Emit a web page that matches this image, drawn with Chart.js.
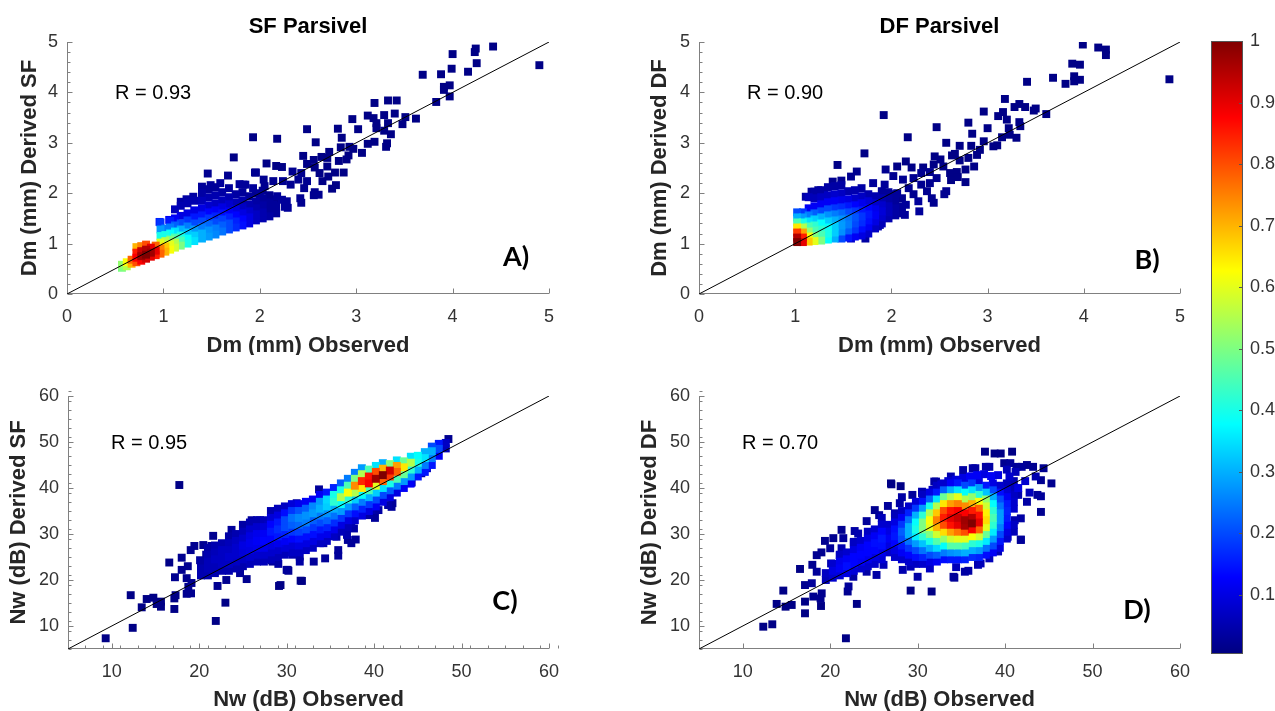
<!DOCTYPE html>
<html><head><meta charset="utf-8">
<script src="https://cdn.jsdelivr.net/npm/chart.js@4.4.1/dist/chart.umd.min.js"></script>
<style>
html,body{margin:0;padding:0;background:#fff}
body{width:1275px;height:711px;position:relative;overflow:hidden}
canvas{position:absolute}
</style></head><body>
<canvas id="cA" width="620" height="355" style="left:0;top:0"></canvas>
<canvas id="cB" width="575" height="355" style="left:630px;top:0"></canvas>
<canvas id="cC" width="620" height="356" style="left:0;top:355px"></canvas>
<canvas id="cD" width="575" height="356" style="left:630px;top:355px"></canvas>
<canvas id="cBar" width="80" height="711" style="left:1195px;top:0"></canvas>
<script>
// ---------------- data ----------------
const dmRange=[0,5], nwRange=[5,60];
const dmTicks=[0,1,2,3,4,5];
const nwTicks=[10,20,30,40,50,60];
const cbTicks=[0.1,0.2,0.3,0.4,0.5,0.6,0.7,0.8,0.9,1];
const cbRange=[0.004,1];
const titles=['SF Parsivel','DF Parsivel'];
const rLabels=['R = 0.93','R = 0.90','R = 0.95','R = 0.70'];
const panelTags=['A)','B)','C)','D)'];
const xTitles=['Dm (mm) Observed','Dm (mm) Observed','Nw (dB) Observed','Nw (dB) Observed'];
const yTitles=['Dm (mm) Derived SF','Dm (mm) Derived DF','Nw (dB) Derived SF','Nw (dB) Derived DF'];

// [observed, derived, normalised density]
const sfDmPts=[
[4.42,4.91,.01],[4.24,4.87,.01],[4.23,4.80,.01],[4.00,4.76,.01],[4.25,4.58,.01],[3.99,4.47,.01],[4.16,4.41,.01],[4.90,4.54,.01],[3.69,4.35,.01],[3.88,4.36,.01],[3.91,4.11,.01],[3.97,4.14,.01],[3.91,4.05,.01],[3.97,3.92,.01],[3.83,3.81,.01],[3.19,3.79,.01],[3.33,3.84,.01],[3.42,3.84,.01],[2.96,3.47,.01],[3.12,3.54,.01],[3.18,3.49,.01],[3.29,3.55,.01],[3.40,3.58,.01],[3.51,3.51,.01],[3.62,3.48,.01],[3.48,3.37,.01],[3.33,3.39,.01],[3.21,3.39,.01],[3.21,3.29,.01],[3.29,3.24,.01],[3.36,3.17,.01],[3.02,3.27,.01],[2.81,3.28,.01],[2.49,3.27,.01],[1.93,3.11,.01],[2.18,3.08,.01],[2.85,3.10,.01],[2.58,3.01,.01],[3.12,2.98,.01],[3.19,3.02,.01],[3.31,2.92,.01],[3.32,2.99,.01],[2.93,2.92,.01],[2.84,2.91,.01],[2.97,2.88,.01],[3.06,2.80,.01],[2.72,2.82,.01],[2.92,2.75,.01],[2.45,2.74,.01],[2.64,2.72,.01],[2.56,2.66,.01],[2.70,2.70,.01],[2.82,2.64,.01],[2.90,2.67,.01],[2.07,2.59,.01],[2.17,2.54,.01],[2.23,2.52,.01],[2.49,2.58,.01],[2.57,2.51,.01],[2.70,2.53,.01],[1.95,2.41,.02],[2.34,2.43,.02],[2.43,2.40,.02],[2.62,2.40,.01],[2.78,2.41,.01],[2.87,2.41,.01],[2.71,2.33,.01],[2.65,2.24,.01],[2.49,2.24,.02],[2.40,2.27,.02],[2.24,2.24,.02],[2.14,2.24,.02],[2.04,2.27,.02],[1.83,2.17,.03],[1.93,2.10,.03],[2.05,2.14,.02],[2.32,2.17,.02],[2.46,2.10,.02],[2.79,2.16,.01],[2.75,2.09,.01],[2.57,2.02,.02],[2.61,1.97,.02],[2.56,1.96,.02],[2.42,1.90,.02],[2.43,1.81,.02],[2.28,1.84,.03],[2.29,1.71,.03],[2.14,1.77,.03],[2.13,1.61,.03],[2.23,1.87,.03],[2.18,1.94,.03],[2.00,1.97,.03],[2.02,1.64,.04],[1.90,1.51,.05],
[1.46,2.39,.02],[1.67,2.35,.02],[1.73,2.71,.01],[1.40,2.13,.03],[1.49,2.16,.03],[1.59,2.20,.03],[1.79,2.18,.03],[1.85,2.17,.03],[1.96,2.41,.02],[1.18,1.83,.04],[1.24,1.88,.04],[1.31,1.93,.04],[1.06,1.47,.12],[0.96,1.43,.15],[2.26,1.73,.03],
[0.57,0.52,.5],[0.57,0.58,.52],[0.62,0.55,.55],[0.62,0.63,.62],[0.67,0.6,.7],[0.67,0.68,.78],
[0.72,0.63,.8],[0.72,0.72,.88],[0.72,0.82,.85],[0.72,0.93,.7],
[0.77,0.66,.88],[0.77,0.75,.97],[0.77,0.85,.93],[0.77,0.95,.75],
[0.82,0.7,.92],[0.82,0.78,1],[0.82,0.88,.95],[0.82,0.98,.8],
[0.87,0.74,.9],[0.87,0.82,.97],[0.87,0.92,.9],
[0.92,0.77,.85],[0.92,0.86,.9],[0.92,0.96,.78],
[0.97,0.8,.78],[0.97,0.9,.75],[0.97,1.02,.6],[0.97,1.15,.4],[0.97,1.28,.28],[0.97,1.42,.18],
[1.02,0.84,.7],[1.02,0.94,.68],[1.02,1.05,.55],[1.02,1.17,.4],[1.02,1.3,.25],
[1.07,0.88,.62],[1.07,0.98,.6],[1.07,1.08,.5],[1.07,1.2,.38],[1.07,1.32,.25],[1.07,1.45,.15],
[1.12,0.92,.58],[1.12,1.02,.55],[1.12,1.12,.45],[1.12,1.24,.35],[1.12,1.36,.22],[1.12,1.5,.12],[1.12,1.68,.06],
[1.18,0.96,.5],[1.18,1.06,.45],[1.18,1.16,.4],[1.18,1.28,.3],[1.18,1.4,.2],[1.18,1.55,.1],[1.18,1.75,.05],
[1.25,1.0,.4],[1.25,1.1,.38],[1.25,1.22,.32],[1.25,1.34,.25],[1.25,1.46,.18],[1.25,1.6,.1],[1.25,1.8,.05],
[1.32,1.05,.35],[1.32,1.16,.33],[1.32,1.28,.28],[1.32,1.4,.2],[1.32,1.52,.15],[1.32,1.66,.1],[1.32,1.85,.05],
[1.4,1.1,.3],[1.4,1.2,.3],[1.4,1.32,.25],[1.4,1.44,.2],[1.4,1.56,.15],[1.4,1.7,.1],[1.4,1.85,.06],[1.4,2.0,.04],
[1.47,1.14,.28],[1.47,1.26,.27],[1.47,1.38,.23],[1.47,1.5,.18],[1.47,1.62,.13],[1.47,1.76,.08],[1.47,1.92,.05],[1.47,2.08,.03],
[1.54,1.18,.26],[1.54,1.3,.25],[1.54,1.42,.2],[1.54,1.54,.16],[1.54,1.66,.12],[1.54,1.8,.07],[1.54,1.96,.05],[1.54,2.12,.03],
[1.61,1.24,.24],[1.61,1.36,.22],[1.61,1.48,.19],[1.61,1.6,.14],[1.61,1.72,.1],[1.61,1.86,.06],[1.61,2.02,.04],
[1.68,1.28,.2],[1.68,1.4,.2],[1.68,1.52,.16],[1.68,1.64,.12],[1.68,1.78,.08],[1.68,1.92,.05],[1.68,2.1,.03],
[1.75,1.32,.17],[1.75,1.44,.16],[1.75,1.56,.13],[1.75,1.68,.1],[1.75,1.82,.06],[1.75,1.98,.04],
[1.82,1.36,.14],[1.82,1.48,.13],[1.82,1.6,.1],[1.82,1.72,.07],[1.82,1.86,.05],[1.82,2.02,.03],
[1.89,1.4,.1],[1.89,1.52,.1],[1.89,1.64,.08],[1.89,1.78,.05],[1.89,1.94,.03],
[1.96,1.46,.07],[1.96,1.58,.07],[1.96,1.7,.05],[1.96,1.84,.04],[1.96,2.0,.02],
[2.03,1.5,.05],[2.03,1.62,.05],[2.03,1.76,.04],[2.03,1.9,.03],[2.03,2.05,.02],
[2.1,1.54,.04],[2.1,1.68,.03],[2.1,1.82,.03],[2.1,1.96,.02],
[2.17,1.6,.03],[2.17,1.74,.03],[2.17,1.88,.02]
];

const dfDmPts=[
[3.99,4.95,.01],[4.15,4.89,.01],[4.23,4.85,.01],[4.23,4.74,.01],[3.88,4.57,.01],[3.96,4.55,.01],[4.89,4.26,.01],[3.41,4.21,.01],[3.68,4.29,.01],[3.81,4.17,.01],[3.90,4.32,.01],[3.90,4.22,.01],[3.96,4.25,.01],[3.18,3.87,.01],[3.28,3.71,.01],[3.33,3.77,.01],[3.39,3.71,.01],[3.48,3.64,.01],[3.50,3.68,.01],[3.61,3.57,.01],[2.96,3.62,.01],[3.16,3.61,.01],[3.11,3.53,.01],[3.20,3.46,.01],[1.92,3.55,.01],[2.80,3.40,.01],[3.00,3.29,.01],[2.47,3.31,.01],[3.33,3.41,.01],[3.34,3.33,.01],[3.22,3.29,.01],[3.23,3.16,.01],[3.30,3.10,.01],[3.15,3.11,.01],[2.84,3.18,.01],[2.17,3.11,.01],[2.57,3.00,.01],[2.96,3.03,.01],[3.06,2.93,.01],[3.10,2.95,.01],[2.71,2.94,.01],[2.83,2.94,.01],[2.92,2.86,.01],[2.89,2.76,.01],[2.45,2.73,.01],[2.63,2.75,.01],[2.66,2.78,.01],[2.51,2.67,.01],[2.71,2.65,.01],[2.80,2.70,.01],[2.86,2.53,.01],[2.15,2.63,.01],[2.06,2.53,.01],[2.21,2.51,.01],[2.33,2.51,.01],[2.44,2.57,.01],[2.54,2.53,.01],[1.94,2.47,.02],[2.77,2.47,.01],[2.31,2.40,.02],[2.40,2.42,.02],[2.61,2.40,.01],[2.68,2.42,.01],[2.69,2.32,.01],[2.62,2.26,.01],[2.77,2.22,.01],[2.02,2.34,.02],[2.12,2.27,.02],[2.23,2.30,.02],[2.47,2.30,.02],[1.81,2.20,.03],[1.93,2.17,.03],[2.31,2.17,.02],[2.40,2.20,.02],[2.57,2.04,.02],[2.55,1.98,.02],[2.37,2.04,.02],[2.18,2.10,.02],[2.06,2.00,.03],[2.23,1.98,.02],[2.42,1.90,.02],[2.44,1.81,.02],[2.28,1.84,.03],[2.29,1.64,.03],[2.15,1.77,.03],[2.14,1.57,.03],[2.04,1.64,.03],[1.94,1.81,.04],[1.88,1.37,.05],
[1.11,1.93,.04],[1.17,2.03,.03],[1.24,2.06,.03],[1.39,2.23,.02],[1.44,2.56,.01],[1.48,2.25,.02],[1.58,2.33,.02],[1.64,2.43,.02],[1.72,2.79,.01],[1.73,1.10,.04],[1.58,1.10,.08],[1.86,1.34,.05],[1.30,1.98,.04],
[1.02,1.03,1],[1.02,1.12,.95],[1.02,1.22,.82],[1.02,1.32,.65],[1.02,1.42,.45],[1.02,1.52,.3],[1.02,1.62,.2],
[1.08,1.03,.9],[1.08,1.12,.85],[1.08,1.22,.72],[1.08,1.32,.55],[1.08,1.42,.4],[1.08,1.52,.28],[1.08,1.62,.18],
[1.14,1.04,.68],[1.14,1.14,.62],[1.14,1.24,.52],[1.14,1.34,.45],[1.14,1.44,.35],[1.14,1.56,.25],[1.14,1.7,.12],[1.14,1.92,.06],
[1.2,1.05,.6],[1.2,1.15,.5],[1.2,1.26,.45],[1.2,1.36,.42],[1.2,1.48,.33],[1.2,1.6,.22],[1.2,1.74,.12],[1.2,1.9,.06],[1.2,2.03,.04],
[1.27,1.06,.5],[1.27,1.17,.45],[1.27,1.28,.42],[1.27,1.4,.38],[1.27,1.52,.3],[1.27,1.64,.2],[1.27,1.78,.12],[1.27,1.92,.07],[1.27,2.06,.04],
[1.34,1.08,.38],[1.34,1.2,.4],[1.34,1.32,.38],[1.34,1.44,.33],[1.34,1.56,.27],[1.34,1.68,.2],[1.34,1.82,.12],[1.34,1.96,.07],[1.34,2.12,.04],
[1.41,1.1,.3],[1.41,1.22,.33],[1.41,1.34,.33],[1.41,1.46,.3],[1.41,1.58,.25],[1.41,1.7,.18],[1.41,1.84,.12],[1.41,1.98,.08],[1.41,2.14,.04],
[1.48,1.1,.2],[1.48,1.24,.27],[1.48,1.36,.28],[1.48,1.48,.27],[1.48,1.6,.23],[1.48,1.72,.17],[1.48,1.86,.11],[1.48,2.0,.07],[1.48,2.16,.04],
[1.55,1.12,.15],[1.55,1.26,.22],[1.55,1.38,.25],[1.55,1.5,.24],[1.55,1.62,.2],[1.55,1.74,.15],[1.55,1.88,.1],[1.55,2.04,.05],
[1.62,1.14,.12],[1.62,1.28,.18],[1.62,1.4,.2],[1.62,1.52,.21],[1.62,1.64,.18],[1.62,1.76,.13],[1.62,1.9,.08],[1.62,2.06,.05],
[1.69,1.16,.1],[1.69,1.3,.14],[1.69,1.42,.17],[1.69,1.54,.18],[1.69,1.66,.15],[1.69,1.8,.11],[1.69,1.94,.07],[1.69,2.1,.04],
[1.76,1.2,.08],[1.76,1.34,.12],[1.76,1.46,.14],[1.76,1.58,.15],[1.76,1.7,.13],[1.76,1.84,.09],[1.76,1.98,.05],
[1.83,1.3,.07],[1.83,1.44,.1],[1.83,1.56,.12],[1.83,1.68,.11],[1.83,1.8,.08],[1.83,1.94,.05],
[1.9,1.4,.06],[1.9,1.52,.08],[1.9,1.64,.09],[1.9,1.76,.08],[1.9,1.9,.05],[1.9,2.04,.03],
[1.97,1.5,.05],[1.97,1.62,.06],[1.97,1.74,.06],[1.97,1.88,.04],[1.97,2.02,.03],
[2.04,1.56,.04],[2.04,1.7,.04],[2.04,1.84,.03],[2.04,1.98,.03],
[2.11,1.6,.03],[2.11,1.74,.03],[2.11,1.9,.02]
];

const sfNwPts=[
[17.73,40.65,.01],[9.31,7.33,.01],[12.4,9.6,.01],[12.17,16.7,.01],[13.43,14.06,.01],[14.0,15.87,.01],[14.76,16.15,.01],[15.14,14.78,.01],[15.63,14.2,.01],[15.63,15.3,.01],[17.16,13.7,.01],[17.16,16.0,.01],[17.3,16.7,.01],[16.58,23.8,.01],[17.23,20.6,.02],[18.0,24.85,.02],[18.0,22.2,.02],[18.57,20.4,.02],[18.7,23.0,.02],[18.76,18.5,.02],[18.57,17.0,.02],[19.07,17.1,.02],[19.12,19.35,.02],[19.03,26.5,.02],[19.45,27.4,.02],[21.9,11.1,.01],[23.0,15.07,.01],[22.1,18.7,.02],[23.1,20.0,.02],[25.43,20.2,.02],[29.13,18.7,.01],[30.12,22.2,.02],[31.6,19.85,.01],[20.1,24.3,.03],[20.47,21.5,.03],[20.47,27.6,.02],[21.6,29.6,.02],[21.4,27.4,.03],[20.8,25.5,.03],[21.8,23.3,.04],[22.5,26.0,.04],[23.7,30.9,.03],[23.6,28.0,.05],[24.1,24.3,.04],[24.67,21.5,.03],[24.86,28.3,.06],[25.24,31.6,.04],[26.0,33.0,.03],[26.1,30.9,.06],[26.3,28.0,.08],[26.84,25.1,.05],[26.96,33.0,.04],[27.9,32.0,.07],[28.3,24.3,.04],[29.05,23.5,.04],[29.2,28.0,.1],[29.43,35.2,.04],[30.1,26.2,.06],[30.6,33.75,.16],[30.7,25.5,.05],[31.5,24.0,.04],
[48.5,50.65,.02],[46.05,44.3,.06],[45.4,43.2,.05],[44.3,41.2,.05],[43.4,41.2,.08],[42.2,39.1,.06],[42.1,36.7,.03],[42.0,35.9,.03],[40.5,35.2,.04],[40.1,33.5,.03],[39.4,34.1,.04],[37.7,31.2,.04],[37.9,28.8,.03],[37.0,28.7,.03],[35.9,26.5,.03],[35.9,25.3,.03],[34.4,24.7,.03],[33.1,24.0,.03],[31.75,19.8,.01],[30.2,22.0,.02],[29.3,18.9,.01],[28.4,24.0,.03],[33.7,39.7,.03],[28.9,35.0,.03],[41.6,36.3,.04],[39.7,35.2,.05],[37.4,32.3,.05],[36.9,29.8,.05],[37.4,28.0,.03],[31.15,36.7,.04],[35.7,29.4,.05],[34.2,28.0,.05],[32.9,27.2,.05],[31.5,25.1,.04],[30.0,22.2,.03],[44.1,41.0,.12],[44.9,43.5,.15],[46.0,44.6,.15],
[20.2,21,.05],[20.2,22.5,.05],[20.2,24,.04],
[21,21,.05],[21,22.5,.06],[21,24,.06],[21,25.5,.05],[21,27,.04],
[21.8,21.5,.05],[21.8,23,.06],[21.8,24.5,.07],[21.8,26,.06],[21.8,27.5,.05],
[22.6,22,.05],[22.6,23.5,.07],[22.6,25,.07],[22.6,26.5,.07],[22.6,28,.05],
[23.4,22,.05],[23.4,23.5,.07],[23.4,25,.08],[23.4,26.5,.07],[23.4,28,.06],[23.4,29.5,.04],
[24.2,22.5,.05],[24.2,24,.07],[24.2,25.5,.08],[24.2,27,.08],[24.2,28.5,.07],[24.2,30,.05],
[25,23,.05],[25,24.5,.07],[25,26,.09],[25,27.5,.1],[25,29,.08],[25,30.5,.06],[25,32,.04],
[25.8,23.5,.06],[25.8,25,.08],[25.8,26.5,.1],[25.8,28,.11],[25.8,29.5,.1],[25.8,31,.08],[25.8,32.5,.05],
[26.6,24,.06],[26.6,25.5,.08],[26.6,27,.11],[26.6,28.5,.12],[26.6,30,.11],[26.6,31.5,.08],[26.6,33,.05],
[27.4,24,.06],[27.4,25.5,.08],[27.4,27,.11],[27.4,28.5,.13],[27.4,30,.12],[27.4,31.5,.09],[27.4,33,.06],
[28.2,24.5,.06],[28.2,26,.08],[28.2,27.5,.1],[28.2,29,.13],[28.2,30.5,.15],[28.2,32,.13],[28.2,33.5,.09],[28.2,35,.05],
[29,25,.06],[29,26.5,.08],[29,28,.11],[29,29.5,.15],[29,31,.17],[29,32.5,.15],[29,34,.1],[29,35.5,.06],
[29.8,25.5,.06],[29.8,27,.09],[29.8,28.5,.12],[29.8,30,.16],[29.8,31.5,.2],[29.8,33,.2],[29.8,34.5,.14],[29.8,36,.07],
[30.6,26,.07],[30.6,27.5,.09],[30.6,29,.13],[30.6,30.5,.18],[30.6,32,.22],[30.6,33.5,.24],[30.6,35,.18],[30.6,36.5,.09],
[31.4,26,.07],[31.4,27.5,.1],[31.4,29,.14],[31.4,30.5,.19],[31.4,32,.23],[31.4,33.5,.26],[31.4,35,.21],[31.4,36.5,.11],
[32.2,26.5,.07],[32.2,28,.1],[32.2,29.5,.14],[32.2,31,.2],[32.2,32.5,.25],[32.2,34,.27],[32.2,35.5,.22],[32.2,37,.12],
[33,27,.07],[33,28.5,.1],[33,30,.14],[33,31.5,.18],[33,33,.22],[33,34.5,.28],[33,36,.26],[33,37.5,.12],
[33.8,28,.07],[33.8,29.5,.11],[33.8,31,.15],[33.8,32.5,.2],[33.8,34,.25],[33.8,35.5,.3],[33.8,37,.28],[33.8,38.5,.12],
[34.6,28.5,.07],[34.6,30,.11],[34.6,31.5,.16],[34.6,33,.22],[34.6,34.5,.27],[34.6,36,.33],[34.6,37.5,.34],[34.6,39,.15],
[35.4,29.5,.07],[35.4,31,.11],[35.4,32.5,.17],[35.4,34,.24],[35.4,35.5,.3],[35.4,37,.42],[35.4,38.5,.4],[35.4,40,.16],
[36.2,30.5,.06],[36.2,32,.1],[36.2,33.5,.18],[36.2,35,.28],[36.2,36.5,.38],[36.2,38,.55],[36.2,39.5,.4],[36.2,41,.22],
[37,31.5,.06],[37,33,.1],[37,34.5,.18],[37,36,.28],[37,37.5,.42],[37,39,.62],[37,40.5,.45],[37,42,.25],
[37.8,33,.08],[37.8,34.5,.14],[37.8,36,.22],[37.8,37.5,.33],[37.8,39,.55],[37.8,40.5,.74],[37.8,42,.5],[37.8,43.3,.25],
[38.6,34,.1],[38.6,35.5,.16],[38.6,37,.25],[38.6,38.5,.38],[38.6,40,.65],[38.6,41.5,.84],[38.6,43,.55],[38.6,44.3,.28],
[39.4,35,.1],[39.4,36.5,.18],[39.4,38,.3],[39.4,39.5,.45],[39.4,41,.88],[39.4,42.5,.86],[39.4,44,.45],
[40.2,36,.12],[40.2,37.5,.2],[40.2,39,.33],[40.2,40.5,.6],[40.2,42,.97],[40.2,43.5,.8],[40.2,44.8,.35],
[41,37,.1],[41,38.5,.2],[41,40,.35],[41,41.5,.78],[41,42.8,1],[41,44.2,.7],[41,45.4,.3],
[41.8,38,.1],[41.8,39.5,.22],[41.8,41,.4],[41.8,42.5,.82],[41.8,43.8,.92],[41.8,45.2,.5],
[42.6,39,.1],[42.6,40.5,.25],[42.6,42,.45],[42.6,43.5,.78],[42.6,44.8,.72],[42.6,46,.35],
[43.4,40,.12],[43.4,41.5,.28],[43.4,43,.48],[43.4,44.5,.65],[43.4,45.8,.48],
[44.2,41,.12],[44.2,42.5,.28],[44.2,44,.42],[44.2,45.5,.55],[44.2,46.8,.35],
[45,42.5,.15],[45,44,.3],[45,45.5,.4],[45,47,.38],
[45.8,43.5,.15],[45.8,45,.25],[45.8,46.5,.35],[45.8,47.8,.3],
[46.6,45,.15],[46.6,46.5,.25],[46.6,48,.3],[46.6,49,.2],
[47.4,47,.12],[47.4,48.5,.2],[47.4,49.6,.15],
[48.2,48.6,.06],[48.2,49.8,.07]
];

const dfNwPts=[
[21.8,7.33,.01],[12.35,9.85,.01],[13.38,10.37,.01],[13.88,14.8,.01],[14.9,14.2,.01],[15.6,14.57,.01],[14.64,17.7,.01],[17.12,12.76,.01],[17.12,15.3,.01],[17.12,18.9,.02],[16.55,22.4,.01],[18.07,16.4,.02],[19.03,17.1,.02],[18.95,14.35,.01],[18.9,16.0,.02],[17.9,19.3,.03],[17.96,23.3,.02],[18.46,21.8,.03],[18.46,25.4,.02],[19.0,26.0,.02],[19.4,28.5,.02],[20.1,23.6,.05],[20.0,26.9,.03],[20.36,29.1,.02],[21.3,30.9,.02],[21.5,29.1,.03],[21.3,26.9,.05],[21.1,25.4,.06],[20.9,22.9,.08],[21.7,21.5,.06],[22.0,17.5,.02],[22.1,18.6,.03],[23.05,14.8,.01],[22.8,30.65,.04],[22.7,28.3,.06],[23.2,30.1,.05],[23.6,24.35,.08],[24.17,32.8,.03],[24.17,21.8,.04],[24.75,27.2,.1],[25.1,35.2,.02],[25.6,34.1,.03],[25.3,21.1,.04],[26.1,23.3,.06],[26.6,36.1,.03],[26.95,41.0,.01],[28.06,40.4,.01],[27.4,34.5,.05],[27.96,36.7,.04],[29.4,38.5,.03],[28.3,22.2,.05],[29.2,22.9,.06],[30.0,20.7,.04],[29.2,17.7,.01],[31.6,17.5,.01],[31.4,22.5,.07],[30.5,38.85,.05],[31.9,41.4,.04],[31.7,39.6,.07],[30.5,36.7,.08],[22.65,20.7,.04],
[37.7,47.9,.01],[39.5,47.5,.01],[40.8,47.9,.01],[40.6,45.4,.03],[41.9,44.6,.03],[43.2,44.6,.02],[44.4,44.3,.02],[35.2,43.9,.04],[36.3,44.3,.04],[37.8,44.6,.04],[45.3,41.0,.02],[44.1,34.8,.02],[41.8,28.7,.03],[39.2,26.2,.06],[34.1,20.7,.03],[35.4,21.8,.04],[36.9,23.3,.05],[34.4,22.8,.06],
[44.1,41.7,.02],[43.7,38.5,.03],[44.1,38.2,.03],[41.8,33.4,.04],[41.1,33.0,.05],[41.8,28.8,.03],[39.9,31.2,.1],[40.3,29.4,.07],[42.5,45.0,.02],[41.3,44.6,.03],[39.9,45.4,.02],[38.2,44.6,.04],[36.6,44.3,.04],[32.1,41.4,.04],[27.0,40.8,.01],[38.8,47.5,.01],[41.5,38.5,.05],[42.5,37.0,.04],[38.2,24.7,.06],[37.2,23.6,.06],[34.2,20.5,.03],[35.8,22.0,.04],
[41.5,40,.1],[42.3,41.5,.08],[40.5,42.5,.08],[41.2,43.5,.06],[42.8,39,.06],[43.5,42.5,.05],[40.2,44,.06],[39.2,42.8,.1],[38.4,42.6,.12],[37.6,43,.1],[36.8,42.8,.12],[36,42.5,.12],[35.2,42.2,.1],[34.4,41.8,.1],[33.5,41.5,.08],[32.7,40.8,.08],[30.5,39.2,.05],
[19.5,20,.06],[19.5,21.5,.07],
[20.3,20.5,.08],[20.3,22,.1],[20.3,23.5,.08],
[21.1,21,.09],[21.1,22.5,.12],[21.1,24,.11],[21.1,25.5,.07],
[21.9,21.5,.1],[21.9,23,.14],[21.9,24.5,.12],[21.9,26,.08],
[22.7,22,.09],[22.7,23.5,.13],[22.7,25,.13],[22.7,26.5,.1],[22.7,28,.07],
[23.5,22.5,.08],[23.5,24,.12],[23.5,25.5,.13],[23.5,27,.12],[23.5,28.5,.08],
[24.3,23,.08],[24.3,24.5,.11],[24.3,26,.13],[24.3,27.5,.13],[24.3,29,.1],[24.3,30.5,.07],
[25.1,23.5,.08],[25.1,25,.1],[25.1,26.5,.13],[25.1,28,.14],[25.1,29.5,.12],[25.1,31,.08],
[25.9,24.5,.09],[25.9,26,.11],[25.9,27.5,.14],[25.9,29,.15],[25.9,30.5,.13],[25.9,32,.08],[25.9,33.5,.06],
[26.6,26,.08],[26.6,27.5,.1],[26.6,29,.12],[26.6,30.5,.1],[26.6,32,.08],
[27.4,25,.08],[27.4,26.5,.1],[27.4,28,.13],[27.4,29.5,.15],[27.4,31,.14],[27.4,32.5,.1],[27.4,34,.06],
[28.2,24.5,.08],[28.2,26,.12],[28.2,27.5,.15],[28.2,29,.2],[28.2,30.5,.22],[28.2,32,.18],[28.2,33.5,.12],[28.2,35,.07],[28.2,38,.04],
[29,24,.08],[29,25.5,.13],[29,27,.18],[29,28.5,.24],[29,30,.3],[29,31.5,.3],[29,33,.24],[29,34.5,.16],[29,36,.08],
[29.8,23.5,.07],[29.8,25,.14],[29.8,26.5,.2],[29.8,28,.28],[29.8,29.5,.36],[29.8,31,.4],[29.8,32.5,.38],[29.8,34,.3],[29.8,35.5,.18],[29.8,37,.09],
[30.6,23.5,.08],[30.6,25,.16],[30.6,26.5,.24],[30.6,28,.32],[30.6,29.5,.42],[30.6,31,.5],[30.6,32.5,.5],[30.6,34,.42],[30.6,35.5,.28],[30.6,37,.14],[30.6,38.5,.07],
[31.4,24,.1],[31.4,25.5,.2],[31.4,27,.3],[31.4,28.5,.4],[31.4,30,.5],[31.4,31.5,.6],[31.4,33,.62],[31.4,34.5,.55],[31.4,36,.4],[31.4,37.5,.22],[31.4,39,.1],
[32.2,24,.12],[32.2,25.5,.22],[32.2,27,.34],[32.2,28.5,.46],[32.2,30,.58],[32.2,31.5,.7],[32.2,33,.75],[32.2,34.5,.68],[32.2,36,.55],[32.2,37.5,.35],[32.2,39,.15],[32.2,40.5,.07],
[33,24.5,.14],[33,26,.25],[33,27.5,.38],[33,29,.52],[33,30.5,.66],[33,32,.8],[33,33.5,.85],[33,35,.8],[33,36.5,.65],[33,38,.48],[33,39.5,.22],[33,41,.08],
[33.8,24.5,.15],[33.8,26,.27],[33.8,27.5,.46],[33.8,29,.58],[33.8,30.5,.72],[33.8,32,.86],[33.8,33.5,.9],[33.8,35,.86],[33.8,36.5,.72],[33.8,38,.55],[33.8,39.5,.3],[33.8,41,.12],[33.8,42.5,.05],
[34.6,24.5,.15],[34.6,26,.28],[34.6,27.5,.46],[34.6,29,.6],[34.6,30.5,.76],[34.6,32,.9],[34.6,33.5,.93],[34.6,35,.88],[34.6,36.5,.75],[34.6,38,.6],[34.6,39.5,.35],[34.6,41,.15],
[35.4,24.5,.16],[35.4,26,.3],[35.4,27.5,.44],[35.4,29,.6],[35.4,30.5,.8],[35.4,31.8,.96],[35.4,33,.97],[35.4,34.5,.88],[35.4,36,.74],[35.4,37.5,.55],[35.4,39,.38],[35.4,40.5,.2],[35.4,42,.08],
[36.2,25,.17],[36.2,26.5,.3],[36.2,28,.42],[36.2,29.5,.62],[36.2,31,.88],[36.2,32.3,1],[36.2,33.5,.95],[36.2,35,.85],[36.2,36.5,.7],[36.2,38,.52],[36.2,39.5,.35],[36.2,41,.18],[36.2,42.5,.08],
[37,25,.16],[37,26.5,.28],[37,28,.4],[37,29.5,.58],[37,31,.78],[37,32.5,.9],[37,34,.86],[37,35.5,.78],[37,37,.62],[37,38.5,.42],[37,40,.28],[37,41.5,.1],
[37.8,25.5,.14],[37.8,27,.24],[37.8,28.5,.36],[37.8,30,.48],[37.8,31.5,.6],[37.8,33,.66],[37.8,34.5,.64],[37.8,36,.58],[37.8,37.5,.52],[37.8,39,.32],[37.8,40.5,.15],
[38.6,26,.12],[38.6,27.5,.2],[38.6,29,.28],[38.6,30.5,.36],[38.6,32,.42],[38.6,33.5,.45],[38.6,35,.42],[38.6,36.5,.38],[38.6,38,.3],[38.6,39.5,.2],[38.6,41,.1],
[39.4,27,.1],[39.4,28.5,.15],[39.4,30,.2],[39.4,31.5,.25],[39.4,33,.28],[39.4,34.5,.28],[39.4,36,.24],[39.4,37.5,.2],[39.4,39,.14],[39.4,40.5,.08],
[40.2,29,.08],[40.2,30.5,.1],[40.2,32,.13],[40.2,33.5,.15],[40.2,35,.16],[40.2,36.5,.15],[40.2,38,.12],[40.2,39.5,.09],[40.2,41,.06],
[41,30.5,.06],[41,32,.07],[41,35.5,.08],[41,37,.08],[41,38.5,.07],[41,40,.06],[41,41.5,.05]
];

// ---------------- helpers ----------------
const jetStops=[[0,[0,0,.5]],[.125,[0,0,1]],[.375,[0,1,1]],[.625,[1,1,0]],[.875,[1,0,0]],[1,[.5,0,0]]];
function jetT(t){
  t=Math.max(0,Math.min(1,t));
  const c=v=>Math.round(255*Math.max(0,Math.min(1,v)));
  return 'rgb('+c(1.5-Math.abs(4*t-3))+','+c(1.5-Math.abs(4*t-2))+','+c(1.5-Math.abs(4*t-1))+')';
}
function jet(v){return jetT((v-cbRange[0])/(cbRange[1]-cbRange[0]));}

const FONT='"Liberation Sans", Arial, sans-serif';
const AXIS='#808080';
const MARK=5.6;

const axesPlugin={id:'axes',beforeDatasetsDraw(chart,args,o){
  const c=chart.ctx,a=chart.chartArea,sx=chart.scales.x,sy=chart.scales.y;
  c.save();c.strokeStyle=AXIS;c.lineWidth=1;
  const L=Math.round(a.left)+0.5,B=Math.round(a.bottom)-0.5;
  c.beginPath();c.moveTo(L,Math.round(a.top));c.lineTo(L,B);c.lineTo(Math.round(a.right),B);c.stroke();
  const tick=(isX,v,len)=>{
    if(isX){const p=Math.round(sx.getPixelForValue(v))+0.5;c.moveTo(p,B);c.lineTo(p,B-len);}
    else{const p=Math.round(sy.getPixelForValue(v))+0.5;c.moveTo(L,p);c.lineTo(L+len,p);}
  };
  c.beginPath();
  o.xMajor.forEach(v=>tick(true,v,5));
  o.yMajor.forEach(v=>tick(false,v,5));
  const minor=(isX,step,lo,hi,maj)=>{
    if(!step)return;
    const n=Math.round((hi-lo)/step);
    for(let i=0;i<=n;i++){const v=lo+i*step;if(maj.some(m=>Math.abs(m-v)<1e-6))continue;tick(isX,v,3);}
  };
  minor(true,o.xMinor,sx.min,sx.max,o.xMajor);
  minor(false,o.yMinor,sy.min,sy.max,o.yMajor);
  c.stroke();c.restore();
}};

const textPlugin={id:'texts',afterDraw(chart,args,o){
  const c=chart.ctx,a=chart.chartArea;c.save();
  c.textAlign='center';c.textBaseline='middle';
  if(o.title){c.font='bold 22px '+FONT;c.fillStyle='#000';c.fillText(o.title,(a.left+a.right)/2,a.top-15);}
  c.font='bold 22px '+FONT;c.fillStyle='#262626';
  c.fillText(o.xTitle,(a.left+a.right)/2,a.bottom+o.xTitleDy);
  c.save();c.translate(a.left-o.yTitleDx,(a.top+a.bottom)/2);c.rotate(-Math.PI/2);c.fillText(o.yTitle,0,0);c.restore();
  c.font='20px '+FONT;c.fillStyle='#000';c.textAlign='left';
  c.fillText(o.r,a.left+o.rDx,a.top+o.rDy);
  c.font='bold 27px Lato, '+FONT;c.textAlign='center';
  c.fillText(o.tag,a.right-o.tagDx,a.bottom-o.tagDy);
  c.restore();
}};

function makePanel(id,pts,range,ticks,area,axes,texts){
  const cv=document.getElementById(id);const W=cv.width,H=cv.height;
  const sorted=pts.slice().sort((p,q)=>p[2]-q[2]);
  const cols=sorted.map(p=>jet(p[2]));
  const tickFont={family:FONT,size:18};
  return new Chart(cv,{
    type:'scatter',
    data:{datasets:[
      {data:sorted.map(p=>({x:p[0],y:p[1]})),pointStyle:'rect',pointRadius:MARK,pointHoverRadius:MARK,
       backgroundColor:cols,borderColor:cols,borderWidth:0,order:2},
      {type:'line',data:[{x:range[0],y:range[0]},{x:range[1],y:range[1]}],borderColor:'#000',borderWidth:1,
       pointRadius:0,fill:false,order:1}
    ]},
    options:{
      responsive:false,animation:false,devicePixelRatio:1,events:[],
      layout:{padding:{left:0,right:W-area.right,top:area.top,bottom:0}},
      plugins:{legend:{display:false},tooltip:{enabled:false},axes:axes,texts:texts},
      scales:{
        x:{type:'linear',min:range[0],max:range[1],
           afterBuildTicks:s=>{s.ticks=ticks.x.map(v=>({value:v}));},
           afterFit:s=>{s.height=H-area.bottom;},
           ticks:{font:tickFont,color:'#333',padding:12,maxRotation:0,autoSkip:false,callback:v=>String(v)},
           grid:{display:false,drawTicks:false},border:{display:false}},
        y:{type:'linear',min:range[0],max:range[1],
           afterBuildTicks:s=>{s.ticks=ticks.y.map(v=>({value:v}));},
           afterFit:s=>{s.width=area.left;},
           ticks:{font:tickFont,color:'#333',padding:9,autoSkip:false,callback:v=>String(v)},
           grid:{display:false,drawTicks:false},border:{display:false}}
      }
    },
    plugins:[axesPlugin,textPlugin]
  });
}

makePanel('cA',sfDmPts,dmRange,{x:dmTicks,y:dmTicks},{left:67,right:549,top:42,bottom:294},
  {xMajor:dmTicks,yMajor:dmTicks,xMinor:0,yMinor:0.2},
  {title:titles[0],xTitle:xTitles[0],yTitle:yTitles[0],r:rLabels[0],tag:panelTags[0],xTitleDy:52,yTitleDx:37,rDx:48,rDy:51,tagDx:33,tagDy:37});
makePanel('cB',dfDmPts,dmRange,{x:dmTicks,y:dmTicks},{left:69,right:550,top:42,bottom:294},
  {xMajor:dmTicks,yMajor:dmTicks,xMinor:0,yMinor:0.2},
  {title:titles[1],xTitle:xTitles[1],yTitle:yTitles[1],r:rLabels[1],tag:panelTags[1],xTitleDy:52,yTitleDx:39,rDx:48,rDy:51,tagDx:33,tagDy:34});
makePanel('cC',sfNwPts,nwRange,{x:nwTicks,y:nwTicks},{left:68,right:549,top:41,bottom:294},
  {xMajor:nwTicks,yMajor:nwTicks,xMinor:2,yMinor:2},
  {title:null,xTitle:xTitles[2],yTitle:yTitles[2],r:rLabels[2],tag:panelTags[2],xTitleDy:51,yTitleDx:49,rDx:43,rDy:47,tagDx:44,tagDy:48});
makePanel('cD',dfNwPts,nwRange,{x:nwTicks,y:nwTicks},{left:69,right:550,top:41,bottom:294},
  {xMajor:nwTicks,yMajor:nwTicks,xMinor:0,yMinor:2},
  {title:null,xTitle:xTitles[3],yTitle:yTitles[3],r:rLabels[3],tag:panelTags[3],xTitleDy:51,yTitleDx:49,rDx:43,rDy:47,tagDx:43,tagDy:39});

// colour bar
const cbPlugin={id:'cbframe',afterDatasetsDraw(chart){
  const c=chart.ctx,a=chart.chartArea,sy=chart.scales.y;c.save();
  c.strokeStyle='#555';c.lineWidth=1;
  c.strokeRect(Math.round(a.left)+0.5,Math.round(a.top)+0.5,Math.round(a.right-a.left)-1,Math.round(a.bottom-a.top)-1);
  c.beginPath();
  cbTicks.forEach(v=>{const p=Math.round(sy.getPixelForValue(v))+0.5;c.moveTo(a.right,p);c.lineTo(a.right-4,p);});
  c.stroke();c.restore();
}};
(function(){
  const cv=document.getElementById('cBar');
  new Chart(cv,{
    type:'bar',
    data:{labels:['c'],datasets:[{data:[cbRange],borderWidth:0,barPercentage:1,categoryPercentage:1,
      backgroundColor:ctx=>{const ch=ctx.chart,a=ch.chartArea;if(!a)return '#00f';
        const g=ch.ctx.createLinearGradient(0,a.bottom,0,a.top);
        jetStops.forEach(s=>g.addColorStop(s[0],'rgb('+s[1].map(v=>Math.round(v*255)).join(',')+')'));return g;}}]},
    options:{responsive:false,animation:false,devicePixelRatio:1,events:[],
      layout:{padding:{left:16,right:0,top:41,bottom:57}},
      plugins:{legend:{display:false},tooltip:{enabled:false}},
      scales:{x:{display:false},
        y:{position:'right',min:cbRange[0],max:cbRange[1],
          afterBuildTicks:s=>{s.ticks=cbTicks.map(v=>({value:v}));},
          afterFit:s=>{s.width=32;},
          ticks:{font:{family:FONT,size:18},color:'#333',padding:7,autoSkip:false,callback:v=>String(v)},
          grid:{display:false,drawTicks:false},border:{display:false}}}},
    plugins:[cbPlugin]
  });
})();
</script>
</body></html>
